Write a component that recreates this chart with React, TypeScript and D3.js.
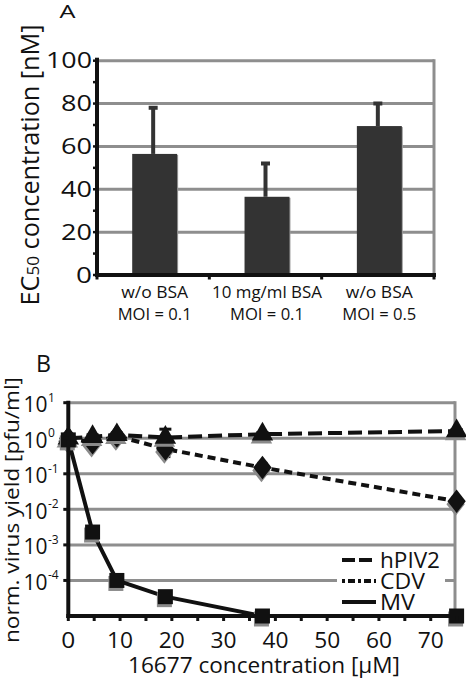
import React from "react";
import * as d3 from "d3";

// ---------- Panel A data ----------
const catLine1 = ["w/o BSA", "10 mg/ml BSA", "w/o BSA"];
const catLine2 = ["MOI = 0.1", "MOI = 0.1", "MOI = 0.5"];
const ec50 = [56.5, 36.5, 69.5];
const ec50Err = [22, 16, 11];
const yTicksA = [0, 20, 40, 60, 80, 100];
const yMinorA = [10, 30, 50, 70, 90];

// ---------- Panel B data ----------
const conc = [0, 4.69, 9.38, 18.75, 37.5, 75];
const hpiv2 = [1.0, 1.1, 1.25, 1.05, 1.3, 1.6];
const hpiv2Hi = [1.2, 1.25, 1.4, 1.8, 1.45, 1.75];
const cdv = [1.0, 0.75, 1.15, 0.5, 0.15, 0.017];
const cdvLo = [0.8, 0.55, 0.95, 0.3, 0.1, 0.014];
const cdvHi = [1.2, 0.95, 1.35, 0.8, 0.2, 0.021];
const mv = [0.9, 2.3e-3, 1.0e-4, 3.5e-5, 1e-5, 1e-5];
const yExpB = [1, 0, -1, -2, -3, -4];
const xTicksB = [0, 10, 20, 30, 40, 50, 60, 70];
const xMinorB = [5, 15, 25, 35, 45, 55, 65, 75];
const seriesNames = ["hPIV2", "CDV", "MV"];

const FONT = "'Open Sans', 'Noto Sans', sans-serif";
const GRID = "#8e8e8e";
const AX = "#111";
const BAR = "#333333";

// text with a fixed rendered length (so the wide lettering of the figure is matched)
function T(props: any) {
  const { x, y, len, size, anchor = "start", rotate = false, children, fill = "#111" } = props;
  return (
    <text
      transform={`translate(${x},${y})${rotate ? " rotate(-90)" : ""}`}
      fontSize={size}
      textAnchor={anchor}
      fontFamily={FONT}
      fill={fill}
      textLength={len}
      lengthAdjust={len ? "spacingAndGlyphs" : undefined}
    >
      {children}
    </text>
  );
}

function PanelA() {
  const x0 = 97, x1 = 434, yTop = 60.7, yBot = 275;
  const y = d3.scaleLinear().domain([0, 100]).range([yBot, yTop]);
  const xb = d3.scaleBand<number>().domain([0, 1, 2]).range([x0, x1]).padding(0);
  const bw = xb.bandwidth() * 0.4;
  const catLen = (s: string) => (s.length > 10 ? 110 : s.startsWith("MOI") ? 74 : 67);
  return (
    <g>
      <T x={59.5} y={18} size={18} len={16}>A</T>
      {/* grid */}
      {yTicksA.filter((t) => t > 0).map((t) => (
        <line key={t} x1={x0} x2={x1} y1={y(t)} y2={y(t)} stroke={GRID} strokeWidth={3} />
      ))}
      <line x1={x1} x2={x1} y1={yTop - 1.5} y2={yBot} stroke={GRID} strokeWidth={3} />
      {/* bars */}
      {ec50.map((v, i) => {
        const cx = (xb(i) as number) + xb.bandwidth() / 2 + 1.5;
        const top = y(v + ec50Err[i]);
        return (
          <g key={i}>
            <line x1={cx - 1.5} x2={cx - 1.5} y1={y(v)} y2={top} stroke={BAR} strokeWidth={4} />
            <line x1={cx - 6} x2={cx + 3} y1={top + 1} y2={top + 1} stroke={BAR} strokeWidth={4} />
            <rect x={cx - bw / 2 + 1} y={y(v) + 1} width={bw} height={yBot - y(v) - 1} fill="#9a9a9a" />
            <rect x={cx - bw / 2} y={y(v)} width={bw} height={yBot - y(v)} fill={BAR} />
          </g>
        );
      })}
      {/* axes */}
      <line x1={x0} x2={x0} y1={yTop - 3} y2={yBot + 2} stroke={AX} strokeWidth={4} />
      <line x1={x0 - 2} x2={x1 + 2} y1={yBot} y2={yBot} stroke={AX} strokeWidth={4} />
      {yTicksA.concat(yMinorA).map((t) => (
        <line key={"t" + t} x1={x0 - 4} x2={x0} y1={y(t)} y2={y(t)} stroke={AX} strokeWidth={2.5} />
      ))}
      {[0, 1, 2, 3].map((i) => {
        const xx = x0 + i * xb.step();
        return <line key={"xt" + i} x1={xx} x2={xx} y1={yBot} y2={yBot + 4.5} stroke={AX} strokeWidth={3} />;
      })}
      {yTicksA.map((t) => {
        const s = String(t);
        return (
          <T key={"l" + t} x={92} y={y(t) + 7.5} size={21} len={s.length * 15 + 1} anchor="end">{s}</T>
        );
      })}
      {ec50.map((_, i) => {
        const cx = (xb(i) as number) + xb.bandwidth() / 2 + 1.5;
        return (
          <g key={"c" + i}>
            <T x={cx} y={298} size={17} len={catLen(catLine1[i])} anchor="middle">{catLine1[i]}</T>
            <T x={cx} y={320} size={17} len={catLen(catLine2[i])} anchor="middle">{catLine2[i]}</T>
          </g>
        );
      })}
      <text
        transform={`translate(38.5,165) rotate(-90)`}
        fontSize={25}
        textAnchor="middle"
        fontFamily={FONT}
        fill="#111"
        textLength={281}
        lengthAdjust="spacingAndGlyphs"
      >
        EC<tspan fontSize={17}>50</tspan> concentration [nM]
      </text>
    </g>
  );
}

function PanelB() {
  const x0 = 68.3, x1 = 455, yTop = 402.7, yBot = 616;
  const x = d3.scaleLinear().domain([0, 75]).range([x0, 456.6]);
  const y = d3.scaleLog().domain([1e-5, 10]).range([yBot, yTop]);
  const line = d3.line<number>().x((_, i) => x(conc[i])).y((d) => y(d));
  const sq = d3.symbol().type(d3.symbolSquare).size(225)() as string;
  const tri = d3.symbol().type(d3.symbolTriangle).size(200)() as string;
  const dia = d3.symbol().type(d3.symbolDiamond).size(160)() as string;
  const shadow = "#8a8a8a";
  const marks = (vals: number[], path: string, key: string, sx = 1) =>
    vals.map((v, i) => (
      <g key={key + i}>
        <path d={path} transform={`translate(${x(conc[i]) - 1},${y(v) + 3}) scale(${sx},1)`} fill={shadow} />
        <path d={path} transform={`translate(${x(conc[i])},${y(v)}) scale(${sx},1)`} fill="#111" />
      </g>
    ));
  const legY = [560, 581, 602];
  const legDash = ["13 4", "3 3 7 3", ""];
  const legLen = [60, 45, 35];
  return (
    <g>
      <T x={36} y={372} size={23.5} len={15}>B</T>
      {yExpB.map((e) => (
        <line key={e} x1={x0} x2={x1} y1={y(Math.pow(10, e))} y2={y(Math.pow(10, e))} stroke={GRID} strokeWidth={3} />
      ))}
      <line x1={x1} x2={x1} y1={yTop - 1.5} y2={yBot} stroke={GRID} strokeWidth={3} />
      {/* legend box */}
      <rect x={337} y={550} width={108} height={62} fill="#fff" />
      {/* lines */}
      <path d={line(mv) as string} fill="none" stroke="#111" strokeWidth={4} />
      <path d={line(cdv) as string} fill="none" stroke="#111" strokeWidth={4} strokeDasharray="8 5" />
      <path d={line(hpiv2) as string} fill="none" stroke="#111" strokeWidth={4} strokeDasharray="14 6" />
      {/* error bars */}
      {cdv.map((v, i) => {
        const cx = x(conc[i]);
        return (
          <g key={"ce" + i} stroke="#111" strokeWidth={2.5}>
            <line x1={cx} x2={cx} y1={y(cdvLo[i])} y2={y(cdvHi[i])} />
            <line x1={cx - 5} x2={cx + 5} y1={y(cdvLo[i])} y2={y(cdvLo[i])} />
            <line x1={cx - 5} x2={cx + 5} y1={y(cdvHi[i])} y2={y(cdvHi[i])} />
          </g>
        );
      })}
      {hpiv2.map((v, i) => {
        const cx = x(conc[i]);
        return (
          <g key={"he" + i} stroke="#111" strokeWidth={3}>
            <line x1={cx} x2={cx} y1={y(v)} y2={y(hpiv2Hi[i])} />
            <line x1={cx - 6} x2={cx + 6} y1={y(hpiv2Hi[i])} y2={y(hpiv2Hi[i])} />
          </g>
        );
      })}
      {marks(cdv, dia, "d", 1.35)}
      {marks(hpiv2, tri, "t")}
      {marks(mv, sq, "s")}
      {/* axes */}
      <line x1={x0} x2={x0} y1={yTop - 2} y2={yBot + 2} stroke={AX} strokeWidth={4} />
      <line x1={x0 - 2} x2={x1 + 1} y1={yBot} y2={yBot} stroke={AX} strokeWidth={4} />
      {yExpB.map((e) => (
        <line key={"yt" + e} x1={x0 - 5} x2={x0} y1={y(Math.pow(10, e))} y2={y(Math.pow(10, e))} stroke={AX} strokeWidth={3} />
      ))}
      {xTicksB.concat(xMinorB).map((t) => (
        <line key={"xt" + t} x1={x(t)} x2={x(t)} y1={yBot} y2={yBot + 5} stroke={AX} strokeWidth={3} />
      ))}
      {yExpB.map((e) => (
        <g key={"yl" + e}>
          <T x={47.5} y={y(Math.pow(10, e)) + 9.5} size={21} len={24} anchor="end">10</T>
          <T x={48} y={y(Math.pow(10, e)) - 1} size={12}>{e}</T>
        </g>
      ))}
      {xTicksB.map((t) => (
        <T key={"xl" + t} x={x(t)} y={648} size={21.5} len={t === 0 ? 14 : 26} anchor="middle">{t}</T>
      ))}
      <T x={264} y={673} size={21.5} len={272} anchor="middle">16677 concentration [µM]</T>
      <T x={19} y={510} size={20} len={266} anchor="middle" rotate>norm. virus yield [pfu/ml]</T>
      {/* legend */}
      {seriesNames.map((n, i) => (
        <g key={n}>
          <line x1={342} x2={376} y1={legY[i]} y2={legY[i]} stroke="#111" strokeWidth={4} strokeDasharray={legDash[i] || undefined} />
          <T x={380} y={legY[i] + 7.5} size={21} len={legLen[i]}>{n}</T>
        </g>
      ))}
    </g>
  );
}

export default function App() {
  return (
    <svg
      width={466}
      height={679}
      style={{ position: "absolute", left: 0, top: 0, background: "#fff" }}
    >
      <rect width={466} height={679} fill="#fff" />
      <PanelA />
      <PanelB />
    </svg>
  );
}
